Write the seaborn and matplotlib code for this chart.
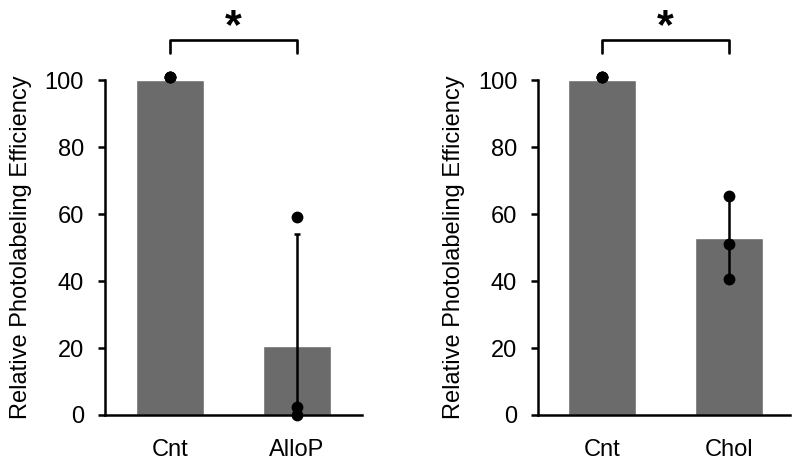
import numpy as np
import pandas as pd
import matplotlib
matplotlib.use("Agg")
import matplotlib.pyplot as plt
import seaborn as sns

# bar heights, SD and individual points
left_groups = ["Cnt", "AlloP"]
left_means = [100, 20.5]
left_sd = [0, 33.4]
left_points_cnt = [101, 101, 101]
left_points_allop = [59, 2.5, 0]

right_groups = ["Cnt", "Chol"]
right_means = [100, 52.9]
right_sd = [0, 12.5]
right_points_cnt = [101, 101, 101]
right_points_chol = [65.5, 51, 40.5]

sns.set_style("white")
plt.rcParams['font.family'] = ['Liberation Sans', 'DejaVu Sans']
plt.rcParams['text.color'] = 'black'
plt.rcParams['axes.labelcolor'] = 'black'
plt.rcParams['xtick.color'] = 'black'
plt.rcParams['ytick.color'] = 'black'

bar_col = "#6b6b6b"

fig = plt.figure(figsize=(8, 4.63), dpi=100)
ax1 = fig.add_axes([0.131, 0.1037, 0.3215, 0.7233])
ax2 = fig.add_axes([0.6725, 0.1037, 0.315, 0.7233])


def panel(ax, groups, means, sd, pts_a, pts_b, xlim):
    bars = pd.DataFrame({"group": groups, "value": means})
    sns.barplot(data=bars, x="group", y="value", color=bar_col, width=0.535,
                saturation=1, errorbar=None, ax=ax, zorder=1)
    # error bars (SD), clipped at zero by the axes
    for i, (m, s) in enumerate(zip(means, sd)):
        if s > 0:
            ax.errorbar(i, m, yerr=s, color="black", lw=1.8, capsize=2,
                        capthick=1.8, zorder=3)
    n_before = len(ax.collections)
    dots = pd.DataFrame({"group": [groups[0]] * len(pts_a) + [groups[1]] * len(pts_b),
                         "value": pts_a + pts_b})
    sns.stripplot(data=dots, x="group", y="value", jitter=False, color="black",
                  size=8.5, ax=ax, zorder=4)
    for c in ax.collections[n_before:]:
        c.set_clip_on(False)
    ax.set_ylim(0, 100)
    ax.set_xlim(*xlim)
    ax.set_yticks([0, 20, 40, 60, 80, 100])
    ax.set_xlabel("")
    ax.set_ylabel("Relative Photolabeling Efficiency", fontsize=17, labelpad=9)
    ax.tick_params(axis="y", labelsize=17, length=5, width=1.8, direction="out",
                   left=True, pad=10)
    ax.tick_params(axis="x", labelsize=17, length=0, pad=17)
    for sp in ["top", "right"]:
        ax.spines[sp].set_visible(False)
    for sp in ["left", "bottom"]:
        ax.spines[sp].set_linewidth(1.8)
        ax.spines[sp].set_color("black")
    # significance bracket
    y0, y1 = 108.1, 111.9
    ax.plot([0, 0, 1, 1], [y0, y1, y1, y0], color="black", lw=1.9, clip_on=False)
    ax.text(0.5, 112.6, "*", ha="center", va="baseline", fontsize=31,
            fontweight="bold", clip_on=False)


panel(ax1, left_groups, left_means, left_sd, left_points_cnt, left_points_allop, (-0.51, 1.51))
panel(ax2, right_groups, right_means, right_sd, right_points_cnt, right_points_chol, (-0.5, 1.48))

fig.savefig("out.png", dpi=100)
